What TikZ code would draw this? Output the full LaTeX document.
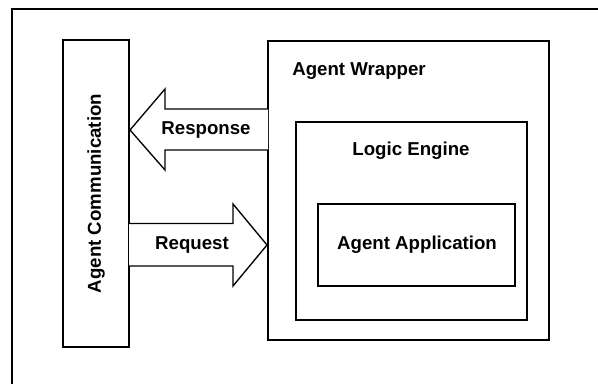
\documentclass[tikz,border=0pt]{standalone}
\usepackage{fontspec}
\setmainfont{Liberation Sans}
\begin{document}
\begin{tikzpicture}[x=0.75pt,y=-0.75pt,
  box/.style={draw=black, line width=1pt, fill=white, inner sep=0pt, rectangle},
  lbl/.style={font=\fontsize{14}{16}\selectfont\bfseries, inner sep=0pt},
  blockarrow/.style={draw=black, line width=1pt, fill=white, line join=miter}]
\useasboundingbox (0,0) rectangle (598,384);
\fill[white] (0,0) rectangle (598,384);
% outer frame (cropped)
\draw[line width=1pt] (12,384) -- (12,9) -- (598,9);
% boxes
\draw[box] (63,40) rectangle (129,347);
\coordinate (comm) at (96,193.5);
\draw[box] (268,41) rectangle (549,340);
\draw[box] (296,122) rectangle (527,320);
\draw[box] (318,204) rectangle (515,286);
% block arrows
\draw[blockarrow] (268,109) -- (165,109) -- (165,89) -- (130,130) -- (165,170) -- (165,150) -- (268,150);
\draw[blockarrow] (129,223.5) -- (233,223.5) -- (233,204) -- (267,245) -- (233,286) -- (233,266) -- (129,266);
% labels
\node[lbl, rotate=90] (commlbl) at (comm) {Agent Communication};
\node[lbl, anchor=base west] (wrap) at (292,76) {Agent Wrapper};
\node[lbl] (logic) at (411,151) {Logic Engine};
\node[lbl] (app) at (417,245) {Agent Application};
\node[lbl] (resp) at (206,130) {Response};
\node[lbl] (req) at (192,245) {Request};
\end{tikzpicture}
\end{document}
